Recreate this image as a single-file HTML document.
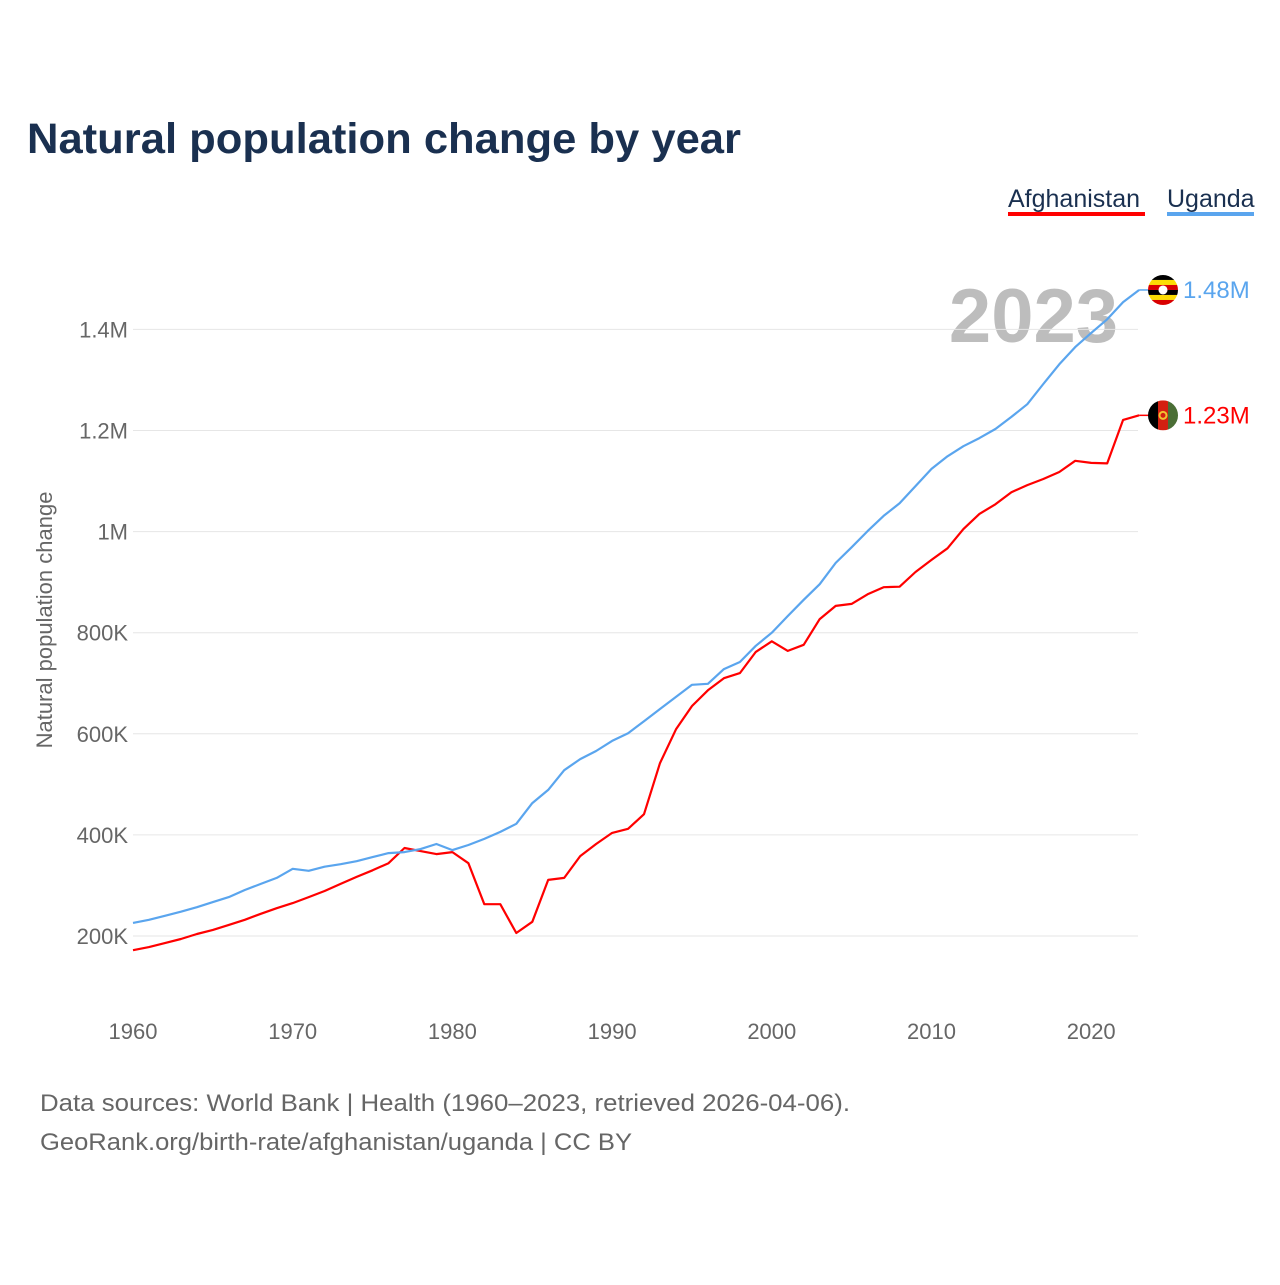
<!DOCTYPE html>
<html><head><meta charset="utf-8"><style>
body{margin:0;background:#fff;font-family:"Liberation Sans",sans-serif}
svg text{font-family:"Liberation Sans",sans-serif}
</style></head><body>
<svg width="1280" height="1280" viewBox="0 0 1280 1280">
<text x="27" y="153" font-size="43" font-weight="bold" fill="#1a3050" textLength="714" lengthAdjust="spacingAndGlyphs">Natural population change by year</text>
<g>
<text x="1008" y="207" font-size="25" fill="#1a3050">Afghanistan</text>
<rect x="1008" y="212" width="137" height="4" fill="#ff0000"/>
<text x="1167" y="207" font-size="25" fill="#1a3050">Uganda</text>
<rect x="1167" y="212" width="87" height="4" fill="#5aa5ee"/>
</g>
<text x="1118" y="342" font-size="76" font-weight="bold" fill="#bdbdbd" text-anchor="end">2023</text>
<g id="grid"></g><g id="yt"></g><g id="xt"></g><g id="lines"></g>
<text transform="translate(52,620) rotate(-90)" font-size="22" fill="#666" text-anchor="middle">Natural population change</text>
<g id="ends"></g>
<text x="40" y="1111" font-size="24" fill="#666" textLength="810" lengthAdjust="spacingAndGlyphs">Data sources: World Bank | Health (1960–2023, retrieved 2026-04-06).</text>
<text x="40" y="1150" font-size="24" fill="#666" textLength="592" lengthAdjust="spacingAndGlyphs">GeoRank.org/birth-rate/afghanistan/uganda | CC BY</text>
</svg>
<script>
const years=[];for(let y=1960;y<=2023;y++)years.push(y);
const afghanistan=[172,178,186,194,204,212,222,232,244,255,265,277,289,303,317,330,344,374,368,362,366,344,263,263,206,228,311,315,358,382,404,412,441,542,609,655,686,710,720,762,783,764,776,827,853,857,876,890,891,920,944,967,1005,1035,1054,1078,1092,1104,1118,1140,1136,1135,1221,1230];
const uganda=[226,232,240,248,257,267,277,291,303,315,333,329,337,342,348,356,364,366,372,382,370,380,392,406,422,463,489,528,550,566,586,601,625,649,673,697,699,728,742,774,800,833,865,896,938,969,1001,1031,1056,1090,1124,1149,1169,1185,1203,1227,1252,1292,1331,1365,1393,1420,1454,1478];
const yTicks=[200,400,600,800,1000,1200,1400];
const yTickLabels=["200K","400K","600K","800K","1M","1.2M","1.4M"];
const xTicks=[1960,1970,1980,1990,2000,2010,2020];
const NS="http://www.w3.org/2000/svg";
const X=yr=>133+(yr-1960)*15.97;
const Y=v=>936-(v-200)*101.1/200;
function mk(tag,attrs,parent,txt){const e=document.createElementNS(NS,tag);for(const k in attrs)e.setAttribute(k,attrs[k]);if(txt!==undefined)e.textContent=txt;document.getElementById(parent).appendChild(e);return e;}
yTicks.forEach((t,i)=>{
const g=mk('line',{x1:133,x2:1138,y1:Y(t),y2:Y(t),stroke:'#e6e6e6','stroke-width':1},'grid');


const l=mk('text',{x:128,y:Y(t)+8,'font-size':22,fill:'#666','text-anchor':'end'},'yt',yTickLabels[i]);


});
xTicks.forEach(t=>{
const l=mk('text',{x:X(t),y:1039,'font-size':22,fill:'#666','text-anchor':'middle'},'xt',String(t));


});
function line(vals,color,name){
const d=vals.map((v,i)=>(i?'L':'M')+X(years[i]).toFixed(1)+','+Y(v).toFixed(1)).join('');
const p=mk('path',{d:d,fill:'none',stroke:color,'stroke-width':2.2,'stroke-linejoin':'round'},'lines');


const lv=vals[vals.length-1],ly=Y(lv),lx=X(years[years.length-1]);
const c=mk('line',{x1:lx,x2:1150,y1:ly,y2:ly,stroke:color,'stroke-width':1.5},'ends');


const t=mk('text',{x:1183,y:ly+8,'font-size':24,fill:color},'ends',(lv/1000).toFixed(2)+'M');


return ly;
}
const ay=line(afghanistan,'#ff0000','afghanistan-line');
const uy=line(uganda,'#5aa5ee','uganda-line');
const ug=document.createElementNS(NS,'g');document.getElementById('ends').appendChild(ug);


ug.innerHTML=`<clipPath id="cu"><circle cx="1163" cy="${uy}" r="15"/></clipPath><g clip-path="url(#cu)">`+
['#000','#fcdc04','#d90000','#000','#fcdc04','#d90000'].map((c,i)=>`<rect x="1148" y="${uy-15+i*5}" width="30" height="5" fill="${c}"/>`).join('')+
`<circle cx="1163" cy="${uy}" r="4.5" fill="#fff"/></g>`;
const af=document.createElementNS(NS,'g');document.getElementById('ends').appendChild(af);


af.innerHTML=`<clipPath id="ca"><circle cx="1163" cy="${ay}" r="15"/></clipPath><g clip-path="url(#ca)"><rect x="1148" y="${ay-15}" width="10" height="30" fill="#000"/><rect x="1158" y="${ay-15}" width="10" height="30" fill="#d32011"/><rect x="1168" y="${ay-15}" width="10" height="30" fill="#4a6e35"/><circle cx="1163" cy="${ay}" r="3.5" fill="none" stroke="#f2c230" stroke-width="2"/></g>`;
</script>
</body></html>
